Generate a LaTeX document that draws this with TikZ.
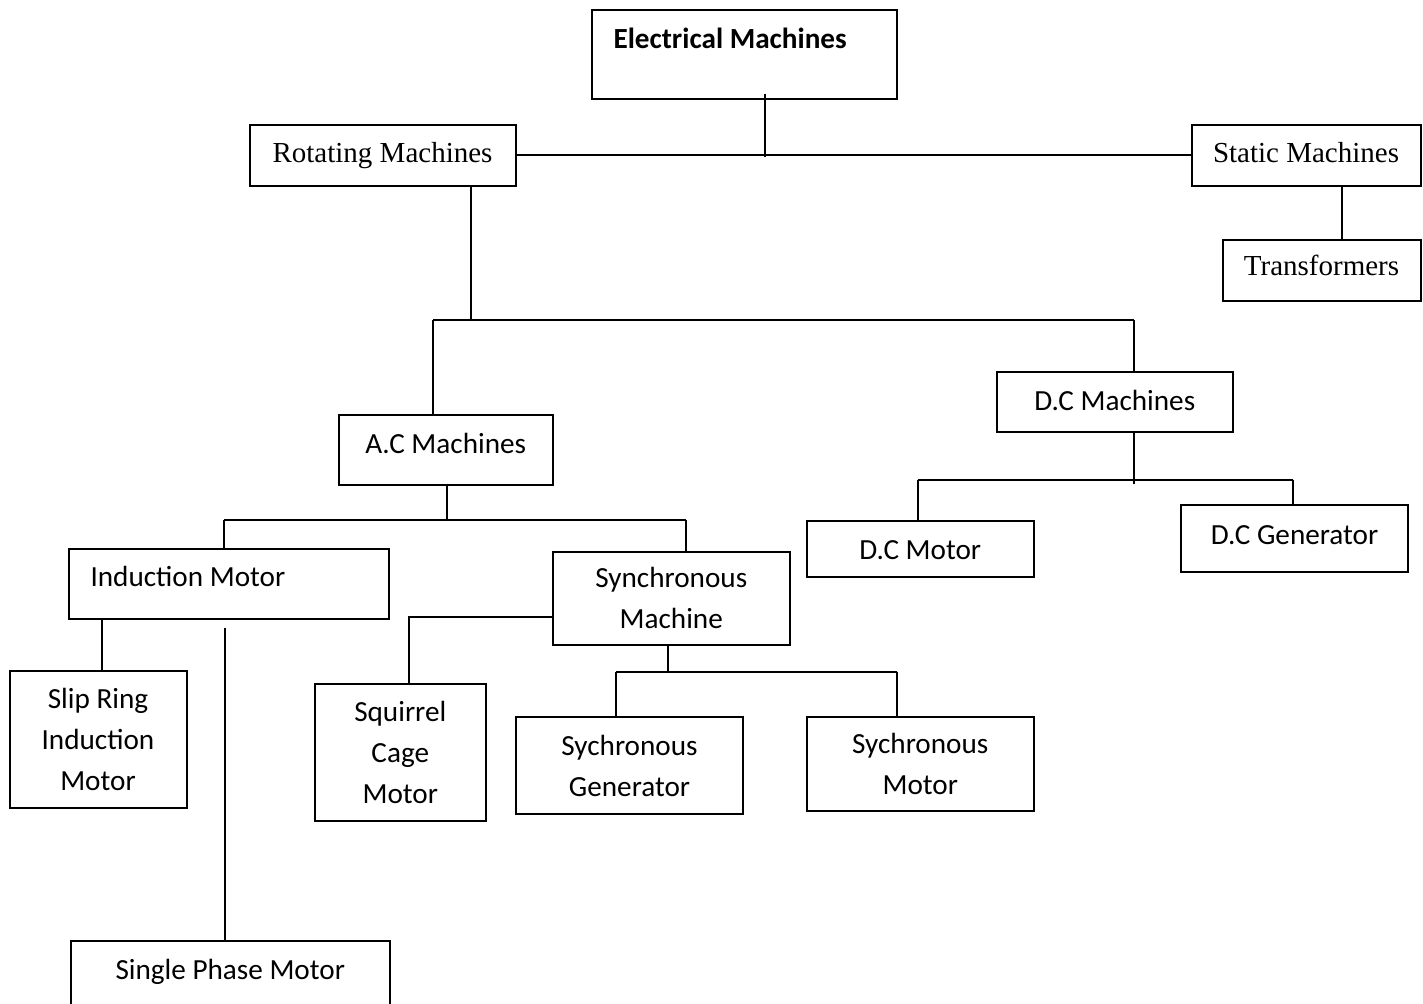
\documentclass[tikz,border=0pt]{standalone}
\usepackage{fontspec}
\usepackage{tikz}
\setmainfont{Carlito}
\newfontfamily\timesfont{Liberation Serif}
\newcommand{\boxfont}{\fontsize{14.6}{20.5}\selectfont}
\newcommand{\timesbox}{\timesfont\fontsize{14.5}{20}\selectfont}

\tikzset{
    box/.style={draw, line width=1pt, inner sep=0pt, anchor=north west, align=center, font=\boxfont},
    serifbox/.style={box, font=\timesbox},
    oneline/.style={text height=9.3pt, text depth=#1},
    link/.style={line width=1pt}
}

\begin{document}
\begin{tikzpicture}[x=0.5pt, y=-0.5pt]
    \useasboundingbox (0,0) rectangle (1423,1003);
    \clip (0,0) rectangle (1423,1003);

    % top level
    \node[box, align=flush left, font=\boxfont\bfseries, text width=131pt, inner xsep=10.75pt,
          text height=19.65pt, text depth=24.85pt] (em) at (591,8.5) {Electrical Machines};
    \node[serifbox, oneline=2pt, minimum width=133pt, minimum height=30.5pt] (rot) at (248.5,123.5) {Rotating Machines};
    \node[serifbox, oneline=2pt, minimum width=114.5pt, minimum height=30.5pt] (sta) at (1190.5,123.5) {Static Machines};
    \node[serifbox, oneline=3.5pt, minimum width=99pt, minimum height=30.5pt] (tra) at (1221.5,238.5) {Transformers};

    % rotating machines
    \node[box, oneline=5.3pt, minimum width=107.25pt, minimum height=35.25pt] (ac) at (337.5,413.5) {A.C Machines};
    \node[box, oneline=0pt, minimum width=117.75pt, minimum height=30pt] (dc) at (996,370.5) {D.C Machines};

    \node[box, align=flush left, text width=138.25pt, inner xsep=10.75pt, oneline=6.3pt,
          minimum height=35.25pt] (ind) at (68,547.5) {Induction Motor};
    \node[box, minimum width=118.25pt, minimum height=46.5pt] (syn) at (552,550.5) {Synchronous\\Machine};
    \node[box, text height=10.9pt, text depth=0pt, minimum width=113.25pt, minimum height=28pt] (dcm) at (806,520) {D.C Motor};
    \node[box, oneline=3pt, minimum width=113.5pt, minimum height=33.5pt] (dcg) at (1180,504) {D.C Generator};

    \node[box, minimum width=88.5pt, minimum height=68.5pt] (slip) at (8.5,670) {Slip Ring\\Induction\\Motor};
    \node[box, minimum width=85.75pt, minimum height=68.5pt] (sq) at (313.5,683) {Squirrel\\Cage\\Motor};
    \node[box, minimum width=113.5pt, minimum height=48.5pt] (sgen) at (515,716) {Sychronous\\Generator};
    \node[box, minimum width=113.25pt, minimum height=47pt] (smot) at (806,715.5) {Sychronous\\Motor};
    \node[box, oneline=3pt, minimum width=159.75pt, minimum height=33pt] (single) at (69.5,939.5) {Single Phase Motor};

    % junction points
    \coordinate (emx) at (764.5,154);
    \coordinate (trx) at (1342,0);
    \coordinate (rbus) at (470.7,320);
    \coordinate (rbusL) at (433,320);
    \coordinate (rbusR) at (1133.5,320);
    \coordinate (abus) at (446.7,520);
    \coordinate (abusL) at (224,520);
    \coordinate (abusR) at (685.5,520);
    \coordinate (slx) at (102,0);
    \coordinate (spx) at (224.5,628.3);
    \coordinate (sqx) at (408.7,616.7);
    \coordinate (sbus) at (667.5,671.7);
    \coordinate (sbusL) at (616,671.7);
    \coordinate (sbusR) at (896.7,671.7);
    \coordinate (dbus) at (1133.5,479.5);
    \coordinate (dbusL) at (917.7,479.5);
    \coordinate (dbusR) at (1293,479.5);

    \draw[link] ([yshift=3pt]em.south -| emx) -- ([yshift=-1.5pt]emx);
    \draw[link] (rot.east) -- (rot.east -| sta.west);
    \draw[link] (sta.south -| trx) -- (tra.north -| trx);

    \draw[link] (rot.south -| rbus) -- (rbus);
    \draw[link] (rbusL) -- (rbusR);
    \draw[link] (rbusL) -- (ac.north -| rbusL);
    \draw[link] (rbusR) -- (dc.north -| rbusR);

    \draw[link] (ac.south -| abus) -- (abus);
    \draw[link] (abusL) -- (abusR);
    \draw[link] (abusL) -- (ind.north -| abusL);
    \draw[link] (abusR) -- (syn.north -| abusR);

    \draw[link] (ind.south -| slx) -- (slip.north -| slx);
    \draw[link] (spx) -- (single.north -| spx);

    \draw[link] (syn.west |- sqx) -- (sqx) -- (sq.north -| sqx);
    \draw[link] (syn.south -| sbus) -- (sbus);
    \draw[link] (sbusL) -- (sbusR);
    \draw[link] (sbusL) -- (sgen.north -| sbusL);
    \draw[link] (sbusR) -- (smot.north -| sbusR);

    \draw[link] (dc.south -| dbus) -- ([yshift=-2pt]dbus);
    \draw[link] (dbusL) -- (dbusR);
    \draw[link] (dbusL) -- (dcm.north -| dbusL);
    \draw[link] (dbusR) -- (dcg.north -| dbusR);
\end{tikzpicture}
\end{document}
